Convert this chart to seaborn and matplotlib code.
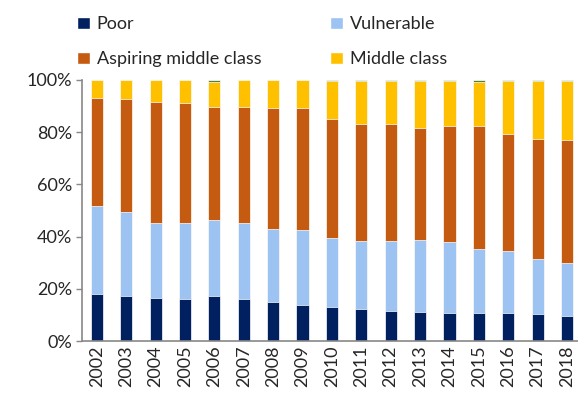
import pandas as pd
import numpy as np
import matplotlib
matplotlib.use("Agg")
import matplotlib.pyplot as plt
import seaborn as sns
from matplotlib.patches import Patch

# -----------------------------
# Data (shares of population, %)
# -----------------------------
years = ["2002", "2003", "2004", "2005", "2006", "2007", "2008", "2009", "2010",
         "2011", "2012", "2013", "2014", "2015", "2016", "2017", "2018"]
poor = [18.0, 17.2, 16.5, 16.0, 17.2, 16.1, 15.1, 13.8, 13.0,
        12.1, 11.6, 11.1, 10.8, 10.8, 10.6, 10.3, 9.6]
vulnerable = [33.8, 32.3, 28.8, 29.4, 29.0, 29.1, 27.8, 28.6, 26.3,
              26.1, 26.7, 27.6, 27.1, 24.6, 24.0, 21.0, 20.3]
aspiring = [41.3, 43.1, 46.3, 45.9, 43.6, 44.5, 46.4, 46.9, 45.9,
            44.9, 44.8, 43.0, 44.5, 47.0, 44.6, 46.1, 47.1]
middle = [6.9, 7.4, 8.4, 8.7, 9.4, 10.3, 10.6, 10.6, 14.6,
          16.6, 16.6, 18.0, 17.1, 16.8, 20.4, 22.3, 22.6]
upper = [0.0, 0.0, 0.0, 0.0, 0.8, 0.0, 0.1, 0.1, 0.2,
         0.3, 0.3, 0.3, 0.5, 0.8, 0.4, 0.3, 0.4]

names = ["Poor", "Vulnerable", "Aspiring middle class", "Middle class", "Upper class"]
colors = ["#002060", "#9DC3F3", "#C55A11", "#FFC000", "#548235"]

df = pd.DataFrame({"Year": years, "Poor": poor, "Vulnerable": vulnerable,
                   "Aspiring middle class": aspiring, "Middle class": middle,
                   "Upper class": upper})

# cumulative tops for stacking
cum = df[names].cumsum(axis=1)
cum["Year"] = df["Year"]

sns.set_style("white")
plt.rcParams["font.family"] = ["Lato", "DejaVu Sans"]

fig = plt.figure(figsize=(5.78, 4.0), dpi=100)
ax = fig.add_axes([0.142, 0.1475, 0.8645, 0.6525])

# draw tallest layer first so lower layers sit on top
for name, color in reversed(list(zip(names, colors))):
    sns.barplot(data=cum, x="Year", y=name, color=color, width=0.41,
                saturation=1, edgecolor="#ffffff", linewidth=0.5, ax=ax)

ax.set_ylim(0, 100)
ax.set_xlim(-0.5, len(years) - 0.5)
ax.set_yticks(np.arange(0, 101, 20))
ax.set_yticklabels([f"{v}%" for v in range(0, 101, 20)], fontsize=13)
ax.tick_params(axis="x", labelrotation=90, labelsize=13, length=0, pad=3)
ax.tick_params(axis="y", length=4, width=1, color="#888888", left=True, pad=3)
ax.set_xlabel("")
ax.set_ylabel("")
for side in ["top", "right"]:
    ax.spines[side].set_visible(False)
for side in ["left", "bottom"]:
    ax.spines[side].set_color("#888888")
    ax.spines[side].set_linewidth(1.2)

# legend filled row by row: Poor, Vulnerable / Aspiring, Middle
order = [0, 2, 1, 3]
handles = [Patch(facecolor=colors[i], label=names[i]) for i in order]
fig.legend(handles=handles, ncol=2, loc="upper left", bbox_to_anchor=(0.105, 1.0),
           frameon=False, fontsize=13, handlelength=0.7, handleheight=0.7,
           handletextpad=0.4, columnspacing=3.8, labelspacing=1.05)

fig.savefig("out.png", dpi=100)
